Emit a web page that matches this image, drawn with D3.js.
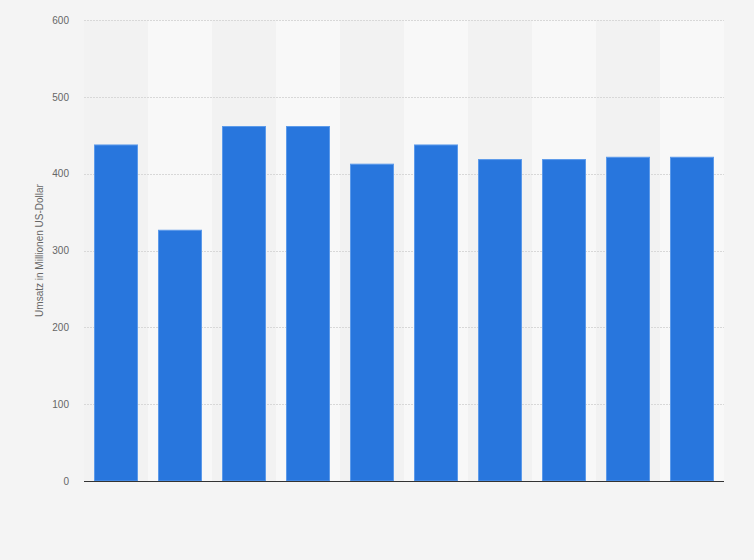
<!DOCTYPE html>
<html>
<head>
<meta charset="utf-8">
<script src="https://cdn.jsdelivr.net/npm/d3@7"></script>
<style>
  body { margin: 0; background: #f4f4f4; }
  svg { display: block; font-family: "Liberation Sans", Arial, sans-serif; }
</style>
</head>
<body>
<div id="chart"></div>
<script>
// Chart size and margins
const width = 754;
const height = 560;
const margin = { top: 20, right: 30, bottom: 79, left: 84 };

// Data (no category labels are shown in the reference)
const categories = ["1", "2", "3", "4", "5", "6", "7", "8", "9", "10"];
const revenue = [438, 327, 462, 462, 413, 438, 419, 419, 422, 422];
const yTicks = [0, 100, 200, 300, 400, 500, 600];
const yTitle = "Umsatz in Millionen US-Dollar";

const svg = d3.select("#chart").append("svg")
  .attr("width", width)
  .attr("height", height);

svg.append("rect")
  .attr("width", width)
  .attr("height", height)
  .attr("fill", "#f4f4f4");

const x = d3.scaleBand()
  .domain(categories)
  .range([margin.left, width - margin.right])
  .paddingInner(0.3125)
  .paddingOuter(0.15625);

const xBg = d3.scaleBand()
  .domain(categories)
  .range([margin.left, width - margin.right]);

const y = d3.scaleLinear()
  .domain([0, 600])
  .range([height - margin.bottom, margin.top]);

// alternating column backgrounds
svg.append("g")
  .selectAll("rect")
  .data(categories)
  .enter().append("rect")
  .attr("x", d => xBg(d))
  .attr("y", margin.top)
  .attr("width", xBg.bandwidth())
  .attr("height", y(0) - margin.top)
  .attr("fill", (d, i) => i % 2 ? "#f8f8f8" : "#f2f2f2");

// gridlines
svg.append("g")
  .selectAll("line")
  .data(yTicks.filter(t => t > 0))
  .enter().append("line")
  .attr("x1", margin.left)
  .attr("x2", width - margin.right)
  .attr("y1", d => Math.round(y(d)) + 0.5)
  .attr("y2", d => Math.round(y(d)) + 0.5)
  .attr("stroke", "#d8d8d8")
  .attr("stroke-dasharray", "2,1");

// y axis labels
const yAxis = svg.append("g")
  .attr("transform", `translate(${margin.left},0)`)
  .call(d3.axisLeft(y).tickValues(yTicks).tickSize(0).tickPadding(15));
yAxis.select(".domain").remove();
yAxis.selectAll("text")
  .attr("fill", "#666")
  .style("font-size", "10px");

// bars
svg.append("g")
  .selectAll("rect")
  .data(revenue)
  .enter().append("rect")
  .attr("x", (d, i) => x(categories[i]) + 0.5)
  .attr("y", d => y(d) + 0.5)
  .attr("width", x.bandwidth() - 1)
  .attr("height", d => y(0) - y(d) - 0.5)
  .attr("fill", "#2876dd")
  .attr("stroke", "#5c9aea")
  .attr("stroke-width", 1);

// baseline
svg.append("line")
  .attr("x1", margin.left)
  .attr("x2", width - margin.right)
  .attr("y1", y(0) + 0.5)
  .attr("y2", y(0) + 0.5)
  .attr("stroke", "#333")
  .attr("stroke-width", 1);

// y title
svg.append("text")
  .attr("transform", `translate(43,${(margin.top + y(0)) / 2}) rotate(-90)`)
  .attr("text-anchor", "middle")
  .attr("fill", "#666")
  .style("font-size", "10px")
  .text(yTitle);
</script>
</body>
</html>
